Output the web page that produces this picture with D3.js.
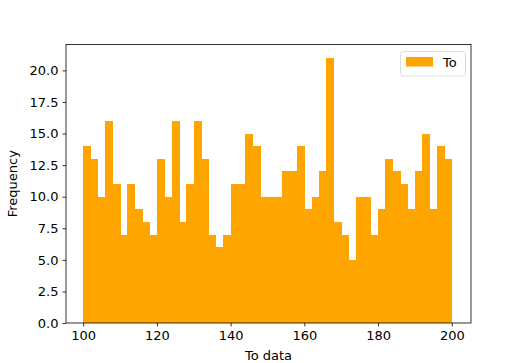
<!DOCTYPE html>
<html>
<head>
<meta charset="utf-8">
<script src="https://cdn.jsdelivr.net/npm/d3@7"></script>
<style>
  body { margin: 0; background: #fff; }
  svg { font-family: "DejaVu Sans", sans-serif; }
</style>
</head>
<body>
<svg id="chart" width="524" height="363"></svg>
<script>
// bin edges: 100..200 in steps of 2 (50 bins)
const binStart = 100;
const binWidth = 2;
const counts = [14, 13, 10, 16, 11, 7, 11, 9, 8, 7,
                13, 10, 16, 8, 11, 16, 13, 7, 6, 7,
                11, 11, 15, 14, 10, 10, 10, 12, 12, 14,
                9, 10, 12, 21, 8, 7, 5, 10, 10, 7,
                9, 13, 12, 11, 9, 12, 15, 9, 14, 13];
const xTicks = [100, 120, 140, 160, 180, 200];
const yTicks = [0, 2.5, 5, 7.5, 10, 12.5, 15, 17.5, 20];
const seriesName = "To";

const bins = counts.map((c, i) => ({ x0: binStart + i * binWidth, x1: binStart + (i + 1) * binWidth, n: c }));

const svg = d3.select("#chart");
const plotL = 66, plotR = 471, plotT = 44.5, plotB = 323;

const x = d3.scaleLinear().domain([95.35, 205.2]).range([plotL, plotR]);
const y = d3.scaleLinear().domain([0, d3.max(counts) * 1.05]).range([plotB, plotT]);

svg.append("g").attr("shape-rendering", "crispEdges")
  .selectAll("rect")
  .data(bins)
  .enter().append("rect")
  .attr("x", d => x(d.x0))
  .attr("y", d => y(d.n))
  .attr("width", d => x(d.x1) - x(d.x0) + 0.5)
  .attr("height", d => y(0) - y(d.n))
  .attr("fill", "orange");

const xAxis = svg.append("g")
  .attr("transform", `translate(0,${plotB})`)
  .call(d3.axisBottom(x).tickValues(xTicks).tickFormat(d3.format("d")).tickSizeOuter(0).tickSize(3.5).tickPadding(4));
const yAxis = svg.append("g")
  .attr("transform", `translate(${plotL},0)`)
  .call(d3.axisLeft(y).tickValues(yTicks).tickFormat(d3.format(".1f")).tickSizeOuter(0).tickSize(3.5).tickPadding(4));

[xAxis, yAxis].forEach(g => {
  g.select(".domain").remove();
  g.selectAll("text").attr("font-size", 13).attr("fill", "#000").attr("font-family", "DejaVu Sans");
  g.selectAll("line").attr("stroke", "#000").attr("stroke-width", 0.8);
});

// frame
svg.append("rect")
  .attr("x", plotL).attr("y", plotT)
  .attr("width", plotR - plotL).attr("height", plotB - plotT)
  .attr("fill", "none").attr("stroke", "#000").attr("stroke-width", 0.8);

svg.append("text")
  .attr("x", (plotL + plotR) / 2).attr("y", 360)
  .attr("text-anchor", "middle").attr("font-size", 13)
  .text("To data");

svg.append("text")
  .attr("transform", `translate(17,${(plotT + plotB) / 2}) rotate(-90)`)
  .attr("text-anchor", "middle").attr("font-size", 13)
  .text("Frequency");

// legend
const lg = svg.append("g");
lg.append("rect")
  .attr("x", 400.5).attr("y", 51.5).attr("width", 65).attr("height", 24.5)
  .attr("rx", 2.5).attr("fill", "#fff").attr("fill-opacity", 0.8)
  .attr("stroke", "#d6d6d6").attr("stroke-width", 0.8);
lg.append("rect")
  .attr("x", 406).attr("y", 57).attr("width", 27).attr("height", 9.5)
  .attr("fill", "orange");
lg.append("text")
  .attr("x", 443).attr("y", 66.5).attr("font-size", 13)
  .text(seriesName);
</script>
</body>
</html>
